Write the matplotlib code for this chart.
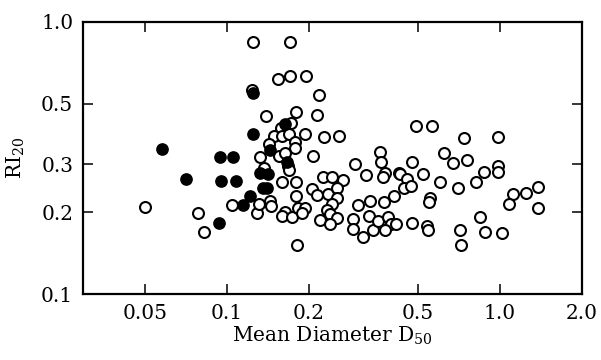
import matplotlib
matplotlib.use("Agg")
import matplotlib.pyplot as plt
from matplotlib.ticker import FixedLocator, NullLocator, FixedFormatter

# ====== data ======
# filled circles
filled_d50 = [0.0578, 0.0708, 0.0943, 0.105, 0.095, 0.108, 0.094, 0.1246, 0.125,
              0.163, 0.144, 0.166, 0.132, 0.141, 0.1355, 0.140, 0.1214, 0.1145]
filled_ri = [0.341, 0.265, 0.319, 0.319, 0.260, 0.260, 0.182, 0.548, 0.388,
             0.422, 0.338, 0.306, 0.279, 0.276, 0.245, 0.245, 0.229, 0.212]

# open circles
open_d50 = [0.0501, 0.0783, 0.0824, 0.1043, 0.1246, 0.170, 0.154, 0.170, 0.1945, 0.1235,
            0.2173, 0.139, 0.179, 0.214, 0.1714, 0.1577, 0.1486, 0.159, 0.1687, 0.193,
            0.2265, 0.257, 0.1426, 0.1775, 0.1775, 0.132, 0.155, 0.163, 0.2065, 0.1673,
            0.1687, 0.1366, 0.160, 0.179, 0.1288, 0.1309, 0.144, 0.145, 0.179, 0.163,
            0.160, 0.173, 0.182, 0.193, 0.1884, 0.2048, 0.214, 0.1805, 0.294, 0.363,
            0.366, 0.323, 0.379, 0.4266, 0.225, 0.2427, 0.266, 0.2344, 0.253, 0.253,
            0.2427, 0.2323, 0.238, 0.253, 0.219, 0.238, 0.302, 0.334, 0.376, 0.409,
            0.289, 0.289, 0.331, 0.343, 0.315, 0.357, 0.389, 0.399, 0.416, 0.379,
            0.492, 0.563, 0.624, 0.673, 0.476, 0.373, 0.430, 0.456, 0.445, 0.472,
            0.5225, 0.603, 0.702, 0.554, 0.550, 0.476, 0.541, 0.545, 0.714, 0.738,
            0.983, 0.757, 0.983, 0.983, 0.874, 0.817, 1.116, 1.245, 1.378, 1.079,
            1.378, 0.845, 0.881, 1.017, 0.720]
open_ri = [0.209, 0.199, 0.169, 0.212, 0.844, 0.844, 0.617, 0.633, 0.633, 0.562,
           0.539, 0.451, 0.467, 0.455, 0.425, 0.408, 0.381, 0.381, 0.388, 0.388,
           0.378, 0.381, 0.356, 0.362, 0.344, 0.319, 0.3216, 0.330, 0.3216, 0.2955,
           0.2857, 0.2905, 0.258, 0.258, 0.1986, 0.214, 0.2198, 0.211, 0.229, 0.200,
           0.1936, 0.192, 0.207, 0.207, 0.1986, 0.243, 0.231, 0.1514, 0.3006, 0.333,
           0.306, 0.274, 0.279, 0.279, 0.269, 0.269, 0.2625, 0.233, 0.245, 0.2254,
           0.214, 0.2037, 0.197, 0.190, 0.187, 0.181, 0.212, 0.2198, 0.218, 0.229,
           0.1888, 0.1734, 0.1936, 0.1719, 0.162, 0.1855, 0.192, 0.181, 0.181, 0.172,
           0.415, 0.415, 0.330, 0.303, 0.306, 0.269, 0.276, 0.265, 0.245, 0.2495,
           0.276, 0.258, 0.245, 0.2254, 0.218, 0.1824, 0.178, 0.172, 0.172, 0.3747,
           0.378, 0.311, 0.2955, 0.281, 0.281, 0.258, 0.233, 0.235, 0.2473, 0.214,
           0.207, 0.192, 0.169, 0.1676, 0.1514]

x_ticks = [0.05, 0.1, 0.2, 0.5, 1.0, 2.0]
x_labels = ["0.05", "0.1", "0.2", "0.5", "1.0", "2.0"]
y_ticks = [0.1, 0.2, 0.3, 0.5, 1.0]
y_labels = ["0.1", "0.2", "0.3", "0.5", "1.0"]

plt.rcParams["font.family"] = ["DejaVu Serif"]
plt.rcParams["mathtext.fontset"] = "dejavuserif"

fig = plt.figure(figsize=(6.01, 3.60), dpi=100)
ax = fig.add_axes([0.138, 0.183, 0.830, 0.756])

ax.scatter(open_d50, open_ri, s=62, facecolors="white", edgecolors="black",
           linewidths=1.5, zorder=3)
ax.scatter(filled_d50, filled_ri, s=66, facecolors="black", edgecolors="black",
           linewidths=1.0, zorder=4)

ax.set_xscale("log")
ax.set_yscale("log")
ax.set_xlim(0.0297, 2.0)
ax.set_ylim(0.1, 1.0)

ax.xaxis.set_major_locator(FixedLocator(x_ticks))
ax.xaxis.set_major_formatter(FixedFormatter(x_labels))
ax.yaxis.set_major_locator(FixedLocator(y_ticks))
ax.yaxis.set_major_formatter(FixedFormatter(y_labels))
ax.xaxis.set_minor_locator(NullLocator())
ax.yaxis.set_minor_locator(NullLocator())

ax.tick_params(axis="both", which="major", direction="in", length=7, width=1.1,
               labelsize=14.5, top=True, right=True, pad=7)

for spine in ax.spines.values():
    spine.set_linewidth(1.6)

ax.set_xlabel(r"Mean Diameter D$_{50}$", fontsize=14.5, labelpad=1)
ax.set_ylabel(r"RI$_{20}$", fontsize=14.5, labelpad=10)

fig.savefig("out.png", dpi=100)
